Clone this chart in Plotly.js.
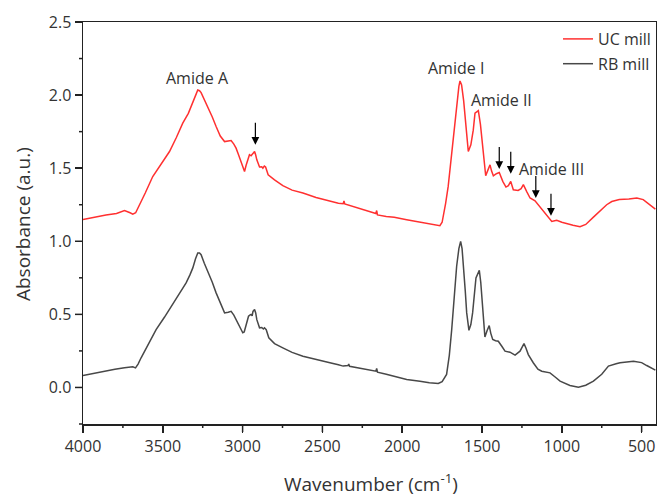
<!DOCTYPE html>
<html>
<head>
<meta charset="utf-8">
<script src="https://cdn.plot.ly/plotly-3.0.1.min.js"></script>
<style>html,body{margin:0;padding:0;background:#fff;}#chart{width:657px;height:496px;}</style>
</head>
<body>
<div id="chart"></div>
<script>
// ---- Data ----
const wavenumberUC = [4000,3930,3856,3790,3740,3705,3688,3670,3657,3610,3563,3510,3458,3415,3375,3340,3312,3290,3281,3270,3260,3240,3218,3190,3166,3140,3113,3090,3072,3055,3041,3025,3009,2998,2988,2978,2967,2957,2947,2935,2925,2918,2911,2894,2880,2873,2864,2856,2848,2840,2800,2748,2690,2622,2540,2453,2400,2370,2365,2360,2300,2250,2200,2165,2160,2155,2100,2050,1972,1900,1830,1764,1750,1743,1728,1712,1695,1680,1660,1645,1638,1628,1615,1600,1586,1570,1555,1544,1530,1523,1510,1492,1477,1462,1450,1440,1429,1410,1392,1370,1350,1335,1320,1304,1274,1255,1241,1220,1199,1168,1140,1116,1090,1063,1045,1032,1000,969,930,886,850,802,760,719,687,640,580,530,490,447,414];
const absorbanceUC = [1.148,1.165,1.18,1.19,1.21,1.195,1.186,1.195,1.227,1.33,1.443,1.53,1.614,1.71,1.808,1.875,1.944,2.01,2.035,2.03,2.017,1.97,1.921,1.85,1.785,1.72,1.682,1.684,1.689,1.665,1.637,1.59,1.546,1.505,1.477,1.52,1.557,1.592,1.585,1.6,1.614,1.59,1.557,1.508,1.51,1.50,1.515,1.508,1.48,1.455,1.42,1.38,1.35,1.33,1.30,1.272,1.26,1.257,1.275,1.255,1.235,1.22,1.2,1.19,1.21,1.18,1.17,1.165,1.148,1.135,1.12,1.107,1.13,1.17,1.26,1.375,1.55,1.717,1.95,2.06,2.097,2.07,1.96,1.78,1.614,1.66,1.76,1.876,1.885,1.894,1.80,1.60,1.448,1.49,1.523,1.48,1.448,1.462,1.471,1.41,1.371,1.38,1.409,1.352,1.348,1.36,1.387,1.34,1.296,1.277,1.24,1.204,1.17,1.136,1.14,1.143,1.13,1.12,1.11,1.10,1.115,1.165,1.21,1.25,1.272,1.285,1.29,1.296,1.285,1.25,1.22];

const wavenumberRB = [4000,3930,3875,3800,3740,3700,3688,3671,3655,3636,3590,3542,3490,3438,3395,3354,3330,3312,3295,3281,3270,3260,3240,3218,3190,3166,3140,3113,3090,3072,3055,3041,3020,2999,2990,2975,2963,2955,2947,2940,2935,2925,2918,2911,2894,2880,2870,2863,2852,2836,2800,2748,2690,2622,2540,2453,2400,2370,2340,2335,2330,2250,2200,2165,2160,2155,2100,2050,1972,1889,1830,1774,1750,1722,1705,1690,1675,1659,1645,1634,1625,1617,1605,1596,1582,1570,1559,1538,1525,1517,1508,1502,1490,1482,1468,1455,1445,1433,1415,1398,1375,1356,1325,1293,1262,1237,1225,1210,1179,1150,1126,1100,1074,1040,1011,949,896,850,802,750,708,660,635,551,500,468,440,414];
const absorbanceRB = [0.082,0.098,0.111,0.125,0.135,0.14,0.141,0.134,0.16,0.203,0.30,0.396,0.48,0.567,0.64,0.715,0.77,0.818,0.88,0.92,0.92,0.908,0.85,0.794,0.72,0.647,0.58,0.51,0.515,0.521,0.495,0.464,0.41,0.374,0.38,0.44,0.487,0.495,0.499,0.49,0.52,0.533,0.51,0.464,0.408,0.41,0.40,0.408,0.395,0.34,0.30,0.271,0.24,0.214,0.19,0.169,0.155,0.146,0.15,0.16,0.145,0.13,0.12,0.111,0.13,0.105,0.09,0.075,0.055,0.043,0.032,0.027,0.04,0.089,0.22,0.396,0.61,0.829,0.95,0.999,0.95,0.852,0.66,0.51,0.391,0.43,0.51,0.749,0.79,0.801,0.72,0.624,0.45,0.346,0.39,0.423,0.37,0.328,0.32,0.316,0.28,0.248,0.241,0.221,0.248,0.30,0.27,0.225,0.169,0.125,0.111,0.105,0.10,0.07,0.043,0.014,0.002,0.015,0.043,0.09,0.146,0.162,0.169,0.18,0.17,0.15,0.135,0.118];

const seriesNames = ["UC mill", "RB mill"];

const peakLabels = ["Amide A", "Amide I", "Amide II", "Amide III"];
const peakLabelX = [3281, 1660, 1376, 1063];
const peakLabelY = [2.118, 2.188, 1.967, 1.496];

const arrowX = [2920, 1392, 1320, 1163, 1068];
const arrowY = [1.66, 1.494, 1.462, 1.296, 1.175];

const xAxisTitle = "Wavenumber (cm<sup>-1</sup>)";
const yAxisTitle = "Absorbance (a.u.)";

// tick positions
const xMajorTicks = [4000, 3500, 3000, 2500, 2000, 1500, 1000, 500];
const xMinorTicks = [3750, 3250, 2750, 2250, 1750, 1250, 750];
const yMajorTicks = [0, 0.5, 1.0, 1.5, 2.0, 2.5];
const yMinorTicks = [-0.25, 0.25, 0.75, 1.25, 1.75, 2.25];

// ---- Chart ----
const FONT = "'Open Sans', 'Noto Sans', sans-serif";
const TXT = "#333333";
const AXC = "#222222";
const W = 657, H = 496;
const M = {l: 83, r: 1, t: 22, b: 72};
const X_RANGE = [4000, 410], Y_RANGE = [-0.25, 2.5];
const plotW = W - M.l - M.r, plotH = H - M.t - M.b;
const MAJOR_LEN = 8, MINOR_LEN = 4;
const xFrac = v => (v - X_RANGE[0]) / (X_RANGE[1] - X_RANGE[0]);
const yFrac = v => (v - Y_RANGE[0]) / (Y_RANGE[1] - Y_RANGE[0]);

const traces = [
  {x: wavenumberUC, y: absorbanceUC, name: seriesNames[0], type: "scatter", mode: "lines",
   line: {color: "#ff3030", width: 1.5}, legendgroup: "a"},
  {x: wavenumberRB, y: absorbanceRB, name: seriesNames[1], type: "scatter", mode: "lines",
   line: {color: "#484848", width: 1.5}, legendgroup: "b"}
];

const annotations = [];
peakLabels.forEach((t, i) => {
  annotations.push({x: peakLabelX[i], y: peakLabelY[i], text: t, showarrow: false,
    xref: "x", yref: "y", font: {family: FONT, size: 16, color: TXT}});
});
arrowX.forEach((ax, i) => {
  annotations.push({x: ax, y: arrowY[i], xref: "x", yref: "y", text: "\u00a0",
    font: {size: 2}, showarrow: true,
    ax: 0, ay: -25, arrowhead: 2, arrowsize: 1.3, arrowwidth: 1.2, arrowcolor: "#000"});
});
annotations.push({xref: "paper", yref: "paper", x: 0.503, y: -0.147, xanchor: "center", yanchor: "middle",
  text: xAxisTitle, showarrow: false, font: {family: FONT, size: 19, color: TXT}});
annotations.push({xref: "paper", yref: "paper", x: -0.105, y: 0.497, xanchor: "center", yanchor: "middle",
  textangle: -90, text: yAxisTitle, showarrow: false, font: {family: FONT, size: 19, color: TXT}});

// outside tick marks on the bottom and left axes
const shapes = [];
function xTick(v, len) {
  shapes.push({type: "line", xref: "paper", yref: "paper", x0: xFrac(v), x1: xFrac(v),
    y0: 0, y1: -len / plotH, line: {color: AXC, width: 1.5}, layer: "above"});
}
function yTick(v, len) {
  shapes.push({type: "line", xref: "paper", yref: "paper", y0: yFrac(v), y1: yFrac(v),
    x0: 0, x1: -len / plotW, line: {color: AXC, width: 1.5}, layer: "above"});
}
xMajorTicks.forEach(v => xTick(v, MAJOR_LEN));
xMinorTicks.forEach(v => xTick(v, MINOR_LEN));
yMajorTicks.forEach(v => yTick(v, MAJOR_LEN));
yMinorTicks.forEach(v => yTick(v, MINOR_LEN));

const axisCommon = {
  showgrid: false, zeroline: false, showline: true, linecolor: AXC, linewidth: 1.5, mirror: true,
  ticks: "outside", ticklen: 7, tickwidth: 1.5, tickcolor: AXC,
  tickfont: {family: FONT, size: 16, color: TXT}
};

const layout = {
  width: W, height: H, margin: M,
  paper_bgcolor: "#fff", plot_bgcolor: "#fff",
  font: {family: FONT, color: TXT},
  showlegend: true,
  legend: {x: 1, xanchor: "right", y: 1, yanchor: "top", bgcolor: "rgba(0,0,0,0)",
    font: {family: FONT, size: 16, color: TXT}, traceorder: "grouped", tracegroupgap: 1},
  xaxis: Object.assign({}, axisCommon, {range: X_RANGE, tickmode: "array", tickvals: xMajorTicks}),
  yaxis: Object.assign({}, axisCommon, {range: Y_RANGE, tickmode: "array", tickvals: yMajorTicks, tickformat: ".1f"}),
  annotations: annotations,
  shapes: shapes
};

Plotly.newPlot("chart", traces, layout, {displayModeBar: false, staticPlot: true});
</script>
</body>
</html>
